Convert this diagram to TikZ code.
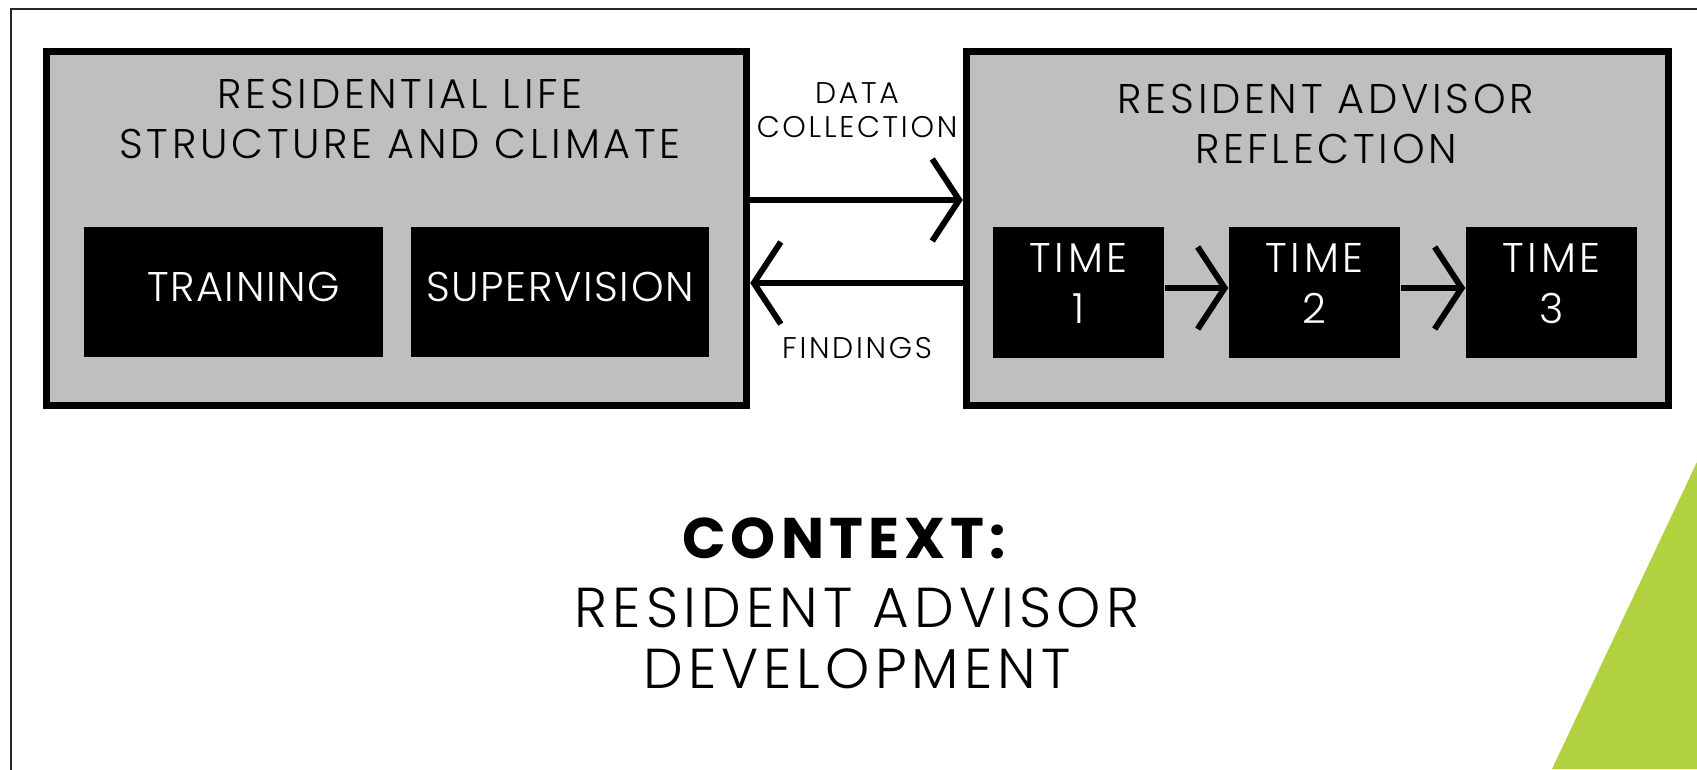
\documentclass[tikz,border=0pt]{standalone}
\usepackage{fontspec}
\setmainfont{Poppins}[UprightFont=* Light, BoldFont=* Bold, LetterSpace=9]
\usepackage{tikz}
\usetikzlibrary{arrows.meta}

\definecolor{boxgray}{HTML}{BEBFC1}
\definecolor{cornergreen}{HTML}{B1D13E}

\begin{document}
\begin{tikzpicture}[x=0.01cm, y=-0.01cm, block/.style={draw, fill=boxgray, line width=2pt, rectangle}]
            \tikzset{darkblock/.style = {fill=black, text=white, rectangle, minimum width=1.71cm, minimum height=1.31cm, align=center, text depth=0.18cm, font=\fontsize{11.8}{14.6}\selectfont}}
            \tikzset{edge/.style = {-{Straight Barb[length=0.27cm,width=0.82cm]}, line width=1.7pt}}
            \tikzset{title/.style = {align=center, inner sep=0pt, font=\fontsize{11.8}{14.2}\selectfont}}

            \useasboundingbox (0,0) rectangle (1697,769);
            \fill[white] (0,0) rectangle (1697,769);
            \draw[line width=0.6pt, black!85] (11,800) -- (11,9) -- (1720,9);
            \fill[cornergreen] (1552,769) -- (1697,462) -- (1697,769) -- cycle;

            \node[block, minimum width=7cm, minimum height=3.54cm] (reslife) at (396.5,228.5) {};
            \node[block, minimum width=7.02cm, minimum height=3.54cm] (rareflect) at (1317.5,228.5) {};

            \node[title] (reslifetitle) at (400,119) {RESIDENTIAL LIFE\\STRUCTURE AND CLIMATE};
            \node[title] (rareflecttitle) at (1326,123.5) {RESIDENT ADVISOR\\REFLECTION};

            \node[darkblock, minimum width=2.99cm, minimum height=1.30cm, text depth=0.11cm] (training) at (233.5,292) {\addfontfeatures{LetterSpace=4}\hspace{0.2cm}TRAINING};
            \node[darkblock, minimum width=2.98cm, minimum height=1.30cm, text depth=0.11cm] (supervision) at (560,292) {\addfontfeatures{LetterSpace=4}SUPERVISION};

            \node[darkblock] (time1) at (1078.5,292.5) {TIME\\1};
            \node[darkblock] (time2) at (1314.5,292.5) {TIME\\2};
            \node[darkblock] (time3) at (1551.5,292.5) {TIME\\3};

            \coordinate (datay) at (0,200);
            \coordinate (findy) at (0,283);
            \coordinate (timey) at (0,288);

            \node[title, font=\fontsize{8.5}{9.6}\selectfont] (datalabel) at (857,110.5) {DATA\\COLLECTION};
            \node[title, font=\fontsize{8.5}{9.6}\selectfont] (findlabel) at (857,348) {FINDINGS};

            \node[title, font=\fontsize{16}{17.4}\selectfont] (context) at (857,603) {{\bfseries\fontsize{16.3}{17.4}\selectfont CONTEXT:\makebox[0.26cm]{}}\\[2.2pt]RESIDENT ADVISOR\\DEVELOPMENT};

            \draw[edge] (reslife.east |- datay) to (rareflect.west |- datay);
            \draw[edge] (rareflect.west |- findy) to (reslife.east |- findy);

            \draw[edge] (time1.east |- timey) to (time2.west |- timey);
            \draw[edge] (time2.east |- timey) to (time3.west |- timey);
            \end{tikzpicture}
\end{document}
